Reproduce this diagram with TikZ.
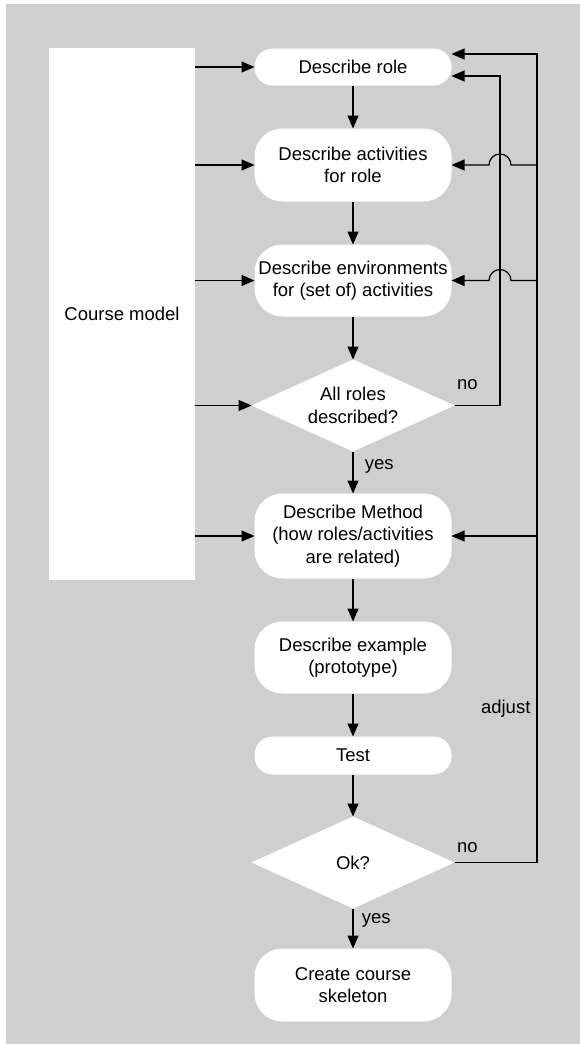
\documentclass[tikz,border=0pt]{standalone}
\usepackage{fontspec}
\setmainfont{Liberation Sans}
\usepackage{xcolor}
\usetikzlibrary{shapes.geometric,positioning,arrows.meta}
\definecolor{panelgray}{RGB}{207,207,207}

\begin{document}
\begin{tikzpicture}[x=1pt, y=-1pt, node distance=43pt,
        block/.style={fill=white, rounded corners=28pt, minimum width=197pt, minimum height=73pt, align=center, inner sep=0pt, outer sep=0pt},
        slim/.style={block, rounded corners=18pt, minimum height=37pt},
        decision/.style={diamond, fill=white, minimum width=203pt, minimum height=92pt, aspect=2.2, inner sep=0pt, outer sep=0pt, align=center},
        >={Triangle[length=13pt,width=11pt]}, line width=1.2pt,
        font=\fontsize{18.5}{22.5}\selectfont
    ]
        % Panel
        \fill[panelgray] (6,4) rectangle (580,1044);
        \useasboundingbox (0,0) rectangle (580,1044);
        
        % Course model
        \node [fill=white, minimum width=146pt, minimum height=532pt, inner sep=0pt, outer sep=0pt] (model) at (122,314) {Course model};
        
        % Main column
        \node [slim] (role) at (353,67) {Describe role};
        \node [block, below=of role] (acts) {Describe activities\\for role};
        \node [block, below=of acts, minimum height=72pt] (envs) {Describe environments\\for (set of) activities};
        \node [decision, below=of envs] (allroles) {All roles\\described?};
        \node [block, below=42pt of allroles, minimum height=85pt] (method) {Describe Method\\(how roles/activities\\are related)};
        \node [block, below=of method, minimum height=72pt] (example) {Describe example\\(prototype)};
        \node [slim, below=of example, minimum height=38pt] (test) {Test};
        \node [decision, below=42pt of test] (ok) {Ok?};
        \node [block, below=40pt of ok] (skel) {Create course\\skeleton};
        
        % Feedback lines
        \coordinate (outer) at (537,0);
        \coordinate (inner) at (500,0);
        \coordinate (hop) at (511,0);
        
        \foreach \n in {role,acts,envs,allroles,method}
            \draw[->] (model.east |- \n.west) -- (\n.west);
        
        \draw[->] (role) -- (acts);
        \draw[->] (acts) -- (envs);
        \draw[->] (envs) -- (allroles);
        \draw[->] (allroles) -- node[right, pos=0.35, xshift=8pt]{yes} (method);
        \draw[->] (method) -- (example);
        \draw[->] (example) -- (test);
        \draw[->] (test) -- (ok);
        \draw[->] (ok) -- node[right, pos=0.3, xshift=5pt]{yes} (skel);
        
        \draw[->] (allroles.east) -- (allroles.east -| inner) |- ([yshift=-9pt]role.east);
        \draw[->] (ok.east) -- (ok.east -| outer) |- ([yshift=13pt]role.east);
        \foreach \n in {acts,envs}
            \draw[->] (\n.east -| outer) -- (\n.east -| hop) arc[start angle=0, end angle=180, radius=11pt] -- (\n.east);
        \draw[->] (method.east -| outer) -- (method.east);
        
        \node [anchor=south west, inner sep=2pt, yshift=13pt] (no1) at (allroles.east) {no};
        \node [anchor=south west, inner sep=2pt, yshift=7pt] (no2) at (ok.east) {no};
        \node [left, inner sep=6pt] (adjust) at (537,709) {adjust};
        
    \end{tikzpicture}
\end{document}
